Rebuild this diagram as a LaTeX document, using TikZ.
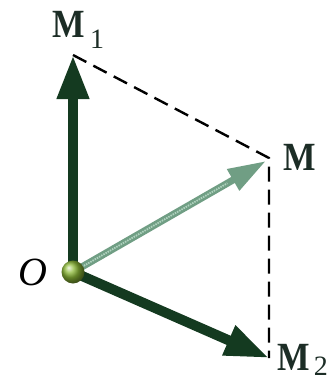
\documentclass[tikz,border=0pt]{standalone}
\usepackage{fontspec}
\setmainfont{Liberation Serif}
\usetikzlibrary{arrows.meta,calc}
\definecolor{vecgreen}{RGB}{20,58,32}
\definecolor{resgreen}{RGB}{112,158,132}
\definecolor{reslight}{RGB}{175,210,190}
\definecolor{labelcol}{RGB}{28,45,38}
\definecolor{ballcol}{RGB}{140,185,55}
\tikzset{
  compvec/.style={draw=vecgreen, line width=10pt, -{Triangle[length=44pt,width=30pt]}},
  resvec/.style={draw=resgreen, line width=7pt, -{Triangle[length=38pt,width=23pt]}},
  resinner/.style={draw=reslight, line width=1.8pt, dash pattern=on 1.5pt off 1pt},
  proj/.style={draw=black, line width=2.4pt, dash pattern=on 15pt off 8pt},
  lbl/.style={text=labelcol, inner sep=0pt, font=\fontsize{40}{40}\selectfont\bfseries, xscale=0.86},
  sublbl/.style={text=labelcol, inner sep=0pt, font=\fontsize{28}{28}\selectfont},
  olbl/.style={text=black, inner sep=0pt, font=\fontsize{40}{40}\selectfont\itshape}
}
\begin{document}
\begin{tikzpicture}[x=1pt,y=-1pt]
\useasboundingbox (0,0) rectangle (331,380);
\fill[white] (0,0) rectangle (331,380);
\coordinate (O) at (73,272);
\coordinate (M1) at (73,55);
\coordinate (M) at (269,158);
\coordinate (M2) at (269,358);
\coordinate (Mtip) at (266,161);
% projection lines
\draw[proj] (M1) -- (M) -- (M2);
% component vectors
\draw[compvec] (O) -- (M2);
\draw[compvec] (O) -- (M1);
% resultant
\draw[resvec] (O) -- (Mtip);
\draw[resinner] (O) -- ($(O)!0.8!(Mtip)$);
% origin ball
\shade[ball color=ballcol] (O) circle (11.5);
% labels
\node[lbl, anchor=base] (lM1) at (69,37) {M};
\node[sublbl, anchor=base] (l1) at (97,48) {1};
\node[lbl, anchor=base] (lM2) at (294,370) {M};
\node[lbl, anchor=base] (lM) at (300,170) {M};
\node[sublbl, anchor=base east] (l2) at (328,375) {2};
\node[olbl, anchor=base] (lO) at (33,285) {O};
\end{tikzpicture}
\end{document}
